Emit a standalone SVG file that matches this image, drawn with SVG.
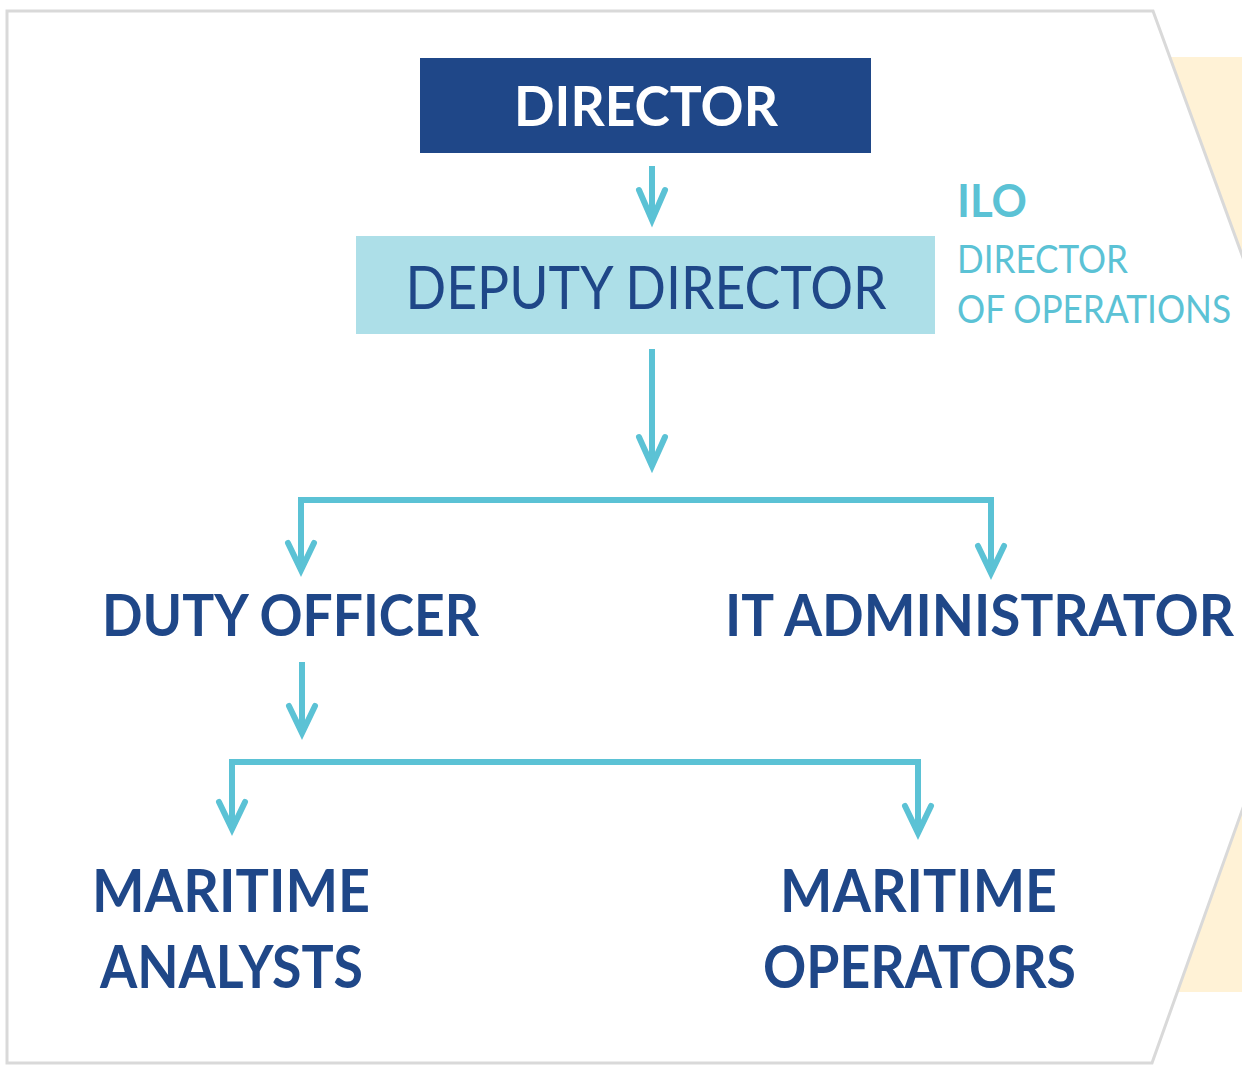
<svg xmlns="http://www.w3.org/2000/svg" width="1242" height="1065" viewBox="0 0 1242 1065">
<style>
.bold{font-family:Lato,"Open Sans","Liberation Sans",sans-serif;font-weight:700;fill:#1F4788}
.reg{font-family:Lato,"Open Sans","Liberation Sans",sans-serif;font-weight:400}
.conn{fill:none;stroke:#5BC2D5;stroke-width:6;stroke-linecap:butt}
.head{fill:none;stroke:#5BC2D5;stroke-width:6;stroke-linecap:round;stroke-linejoin:miter}
</style>
<rect width="1242" height="1065" fill="#FFFFFF"/>
<rect x="1165" y="57" width="100" height="935" fill="#FFF2D6"/>
<polygon points="7,11 1153,11 1300,414 1300,648 1152,1063 7,1063" fill="#FFFFFF" stroke="#D9D9D9" stroke-width="3"/>

<g id="connectors">
<line class="conn" x1="652" y1="166" x2="652" y2="220"/>
<path class="head" d="M639,190 L652,220 L665,190"/>
<line class="conn" x1="652" y1="349" x2="652" y2="466"/>
<path class="head" d="M639,437 L652,466 L665,437"/>
<path class="conn" d="M301,570 V500 H991 V572"/>
<path class="head" d="M288,543 L301,570 L314,543"/>
<path class="head" d="M978,546 L991,573 L1004,546"/>
<line class="conn" x1="302" y1="662" x2="302" y2="733"/>
<path class="head" d="M289,706 L302,733 L315,706"/>
<path class="conn" d="M232,828 V762 H918 V832"/>
<path class="head" d="M219,802 L232,829 L245,802"/>
<path class="head" d="M905,806 L918,833 L931,806"/>
</g>

<g id="director">
<rect x="420" y="58" width="451" height="95" fill="#1F4788"/>
<text class="bold" x="646" y="126" font-size="55" text-anchor="middle" style="fill:#FFFFFF" textLength="264" lengthAdjust="spacingAndGlyphs">DIRECTOR</text>
</g>

<g id="deputy-director">
<rect x="356" y="236" width="579" height="98" fill="#ADDFE8"/>
<text class="reg" x="646" y="309" font-size="60" text-anchor="middle" fill="#1F4788" textLength="481" lengthAdjust="spacingAndGlyphs">DEPUTY DIRECTOR</text>
</g>

<g id="ilo">
<text class="reg" x="957" y="217" font-size="46" fill="#5BC2D5" style="font-weight:700" textLength="70" lengthAdjust="spacingAndGlyphs">ILO</text>
<text class="reg" x="957" y="273" font-size="38" fill="#5BC2D5" textLength="171" lengthAdjust="spacingAndGlyphs">DIRECTOR</text>
<text class="reg" x="957" y="323" font-size="38" fill="#5BC2D5" textLength="274" lengthAdjust="spacingAndGlyphs">OF OPERATIONS</text>
</g>

<g id="duty-officer">
<text class="bold" x="102" y="636" font-size="58" textLength="377" lengthAdjust="spacingAndGlyphs">DUTY OFFICER</text>
</g>

<g id="it-administrator">
<text class="bold" x="725" y="636" font-size="58" textLength="509" lengthAdjust="spacingAndGlyphs">IT ADMINISTRATOR</text>
</g>

<g id="maritime-analysts">
<text class="bold" x="92" y="912" font-size="60" textLength="278" lengthAdjust="spacingAndGlyphs">MARITIME</text>
<text class="bold" x="100" y="988" font-size="60" textLength="263" lengthAdjust="spacingAndGlyphs">ANALYSTS</text>
</g>

<g id="maritime-operators">
<text class="bold" x="780" y="912" font-size="60" textLength="277" lengthAdjust="spacingAndGlyphs">MARITIME</text>
<text class="bold" x="763" y="988" font-size="60" textLength="313" lengthAdjust="spacingAndGlyphs">OPERATORS</text>
</g>
</svg>
